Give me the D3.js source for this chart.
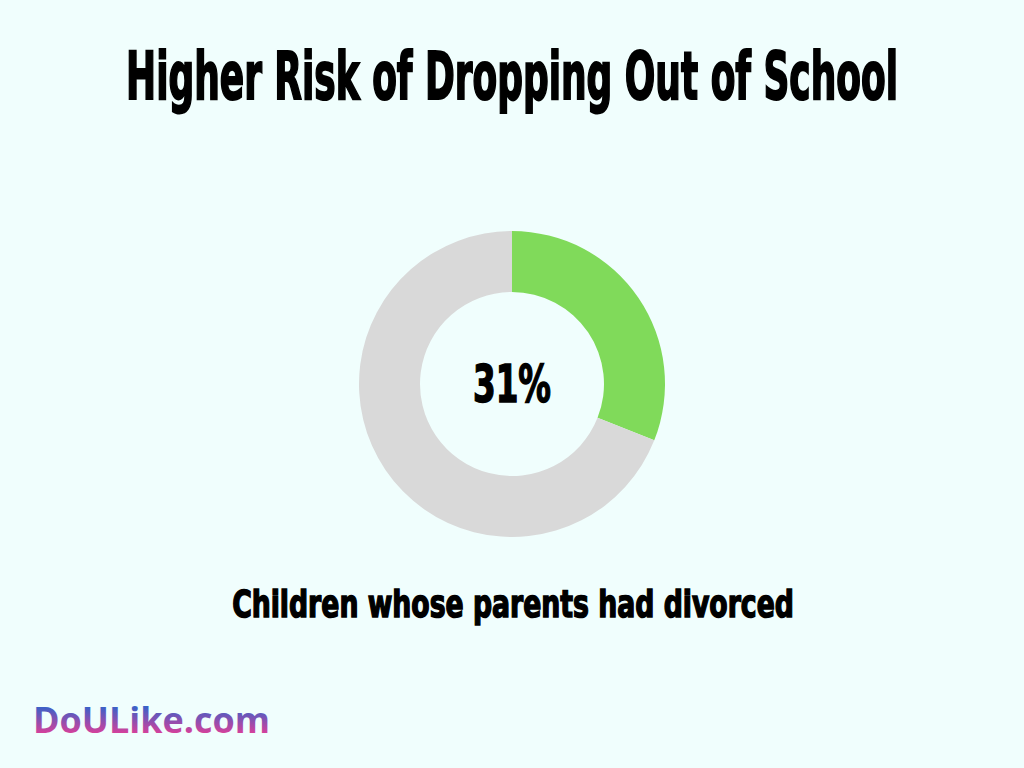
<!DOCTYPE html>
<html><head><meta charset="utf-8">
<script src="https://cdn.jsdelivr.net/npm/d3@7"></script>
<style>html,body{margin:0;padding:0;background:#f0fefd;}svg{display:block;}</style>
</head><body>
<svg id="chart" width="1024" height="768"></svg>
<script>
const title = "Higher Risk of Dropping Out of School";
const categories = ["Children whose parents had divorced", "Others"];
const values = [31, 69];
const centerLabel = "31%";
const caption = "Children whose parents had divorced";
const brand = "DoULike.com";
const colors = ["#80da5a", "#d9d9d9"];

const svg = d3.select("#chart");
svg.append("rect").attr("width",1024).attr("height",768).attr("fill","#f0fefd");

const defs = svg.append("defs");
const grad = defs.append("linearGradient").attr("id","brandGrad")
  .attr("gradientUnits","userSpaceOnUse").attr("x1",0).attr("y1",706).attr("x2",0).attr("y2",736);
grad.append("stop").attr("offset","0%").attr("stop-color","#3562c9");
grad.append("stop").attr("offset","100%").attr("stop-color","#e63d96");

const condensed = "'Liberation Sans Narrow','DejaVu Sans Condensed',sans-serif";

// Place text, then scale horizontally to a target width
function fitText(txt, cx, y, size, targetW, opts) {
  const t = svg.append("text").attr("x",0).attr("y",0)
    .attr("text-anchor", opts.anchor || "middle")
    .attr("font-family", opts.family).attr("font-weight","bold").attr("font-size",size)
    .attr("fill", opts.fill || "#000").text(txt);
  if (opts.stroke) t.attr("stroke","#000").attr("stroke-width",opts.stroke);
  const w = t.node().getComputedTextLength();
  const sx = targetW / w;
  t.attr("transform", `translate(${cx},${y}) scale(${sx},1)`);
  return t;
}

fitText(title, 512, 99, 66, 772, {family: condensed, stroke: 2});

const pie = d3.pie().sort(null).value(d=>d)(values);
const arc = d3.arc().innerRadius(92).outerRadius(153);
const g = svg.append("g").attr("transform","translate(512,384)");
g.selectAll("path").data(pie).join("path").attr("d",arc).attr("fill",(d,i)=>colors[i]);

fitText(centerLabel, 512, 402, 52, 78, {family: condensed, stroke: 1.5});
fitText(caption, 513, 617, 38, 562, {family: condensed, stroke: 1.5});

svg.append("text").attr("x",33).attr("y",733)
  .attr("font-family","'Open Sans',sans-serif").attr("font-weight","bold").attr("font-size",35)
  .attr("textLength",237).attr("lengthAdjust","spacingAndGlyphs")
  .attr("fill","url(#brandGrad)").text(brand);
</script>
</body></html>
